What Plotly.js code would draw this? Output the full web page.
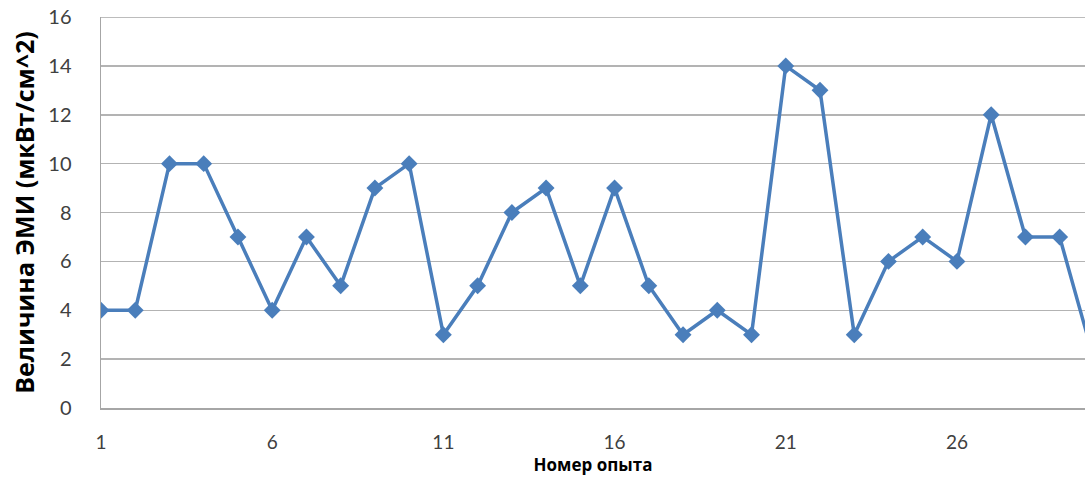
<!DOCTYPE html>
<html>
<head>
<meta charset="utf-8">
<script src="https://cdn.plot.ly/plotly-3.0.1.min.js"></script>
<style>html,body{margin:0;padding:0;background:#fff;}#chart{width:1085px;height:477px;}</style>
</head>
<body>
<div id="chart"></div>
<script>
const experiments = [1,2,3,4,5,6,7,8,9,10,11,12,13,14,15,16,17,18,19,20,21,22,23,24,25,26,27,28,29,30];
const emiValues = [4,4,10,10,7,4,7,5,9,10,3,5,8,9,5,9,5,3,4,3,14,13,3,6,7,6,12,7,7,2];
const xTickVals = [1,6,11,16,21,26];
const yTickVals = [0,2,4,6,8,10,12,14,16];

const trace = {
  x: experiments,
  y: emiValues,
  type: 'scatter',
  mode: 'lines+markers',
  line: {color: '#4a7ebb', width: 3.5},
  marker: {symbol: 'diamond', size: 13, color: '#4a7ebb'},
  cliponaxis: true,
  hoverinfo: 'none'
};

const layout = {
  width: 1085, height: 477,
  margin: {l: 101, r: 0, t: 17, b: 69},
  paper_bgcolor: '#ffffff', plot_bgcolor: '#ffffff',
  font: {family: 'Lato, "Open Sans", sans-serif', size: 20, color: '#404040'},
  showlegend: false,
  xaxis: {
    range: [1, 29.74],
    tickvals: xTickVals,
    ticktext: xTickVals.map(String),
    showgrid: false,
    zeroline: false,
    showline: true, linecolor: '#a6a6a6', linewidth: 1.5,
    ticks: '',
    ticklabelstandoff: 17,
    tickfont: {size: 19, color: '#404040'},
    title: {text: '<b>Номер опыта</b>', font: {family: '"Open Sans", sans-serif', size: 17, color: '#000000'}, standoff: 7}
  },
  yaxis: {
    range: [0, 16],
    tickvals: yTickVals,
    showgrid: true, gridcolor: '#b3b3b3', gridwidth: 1.5,
    zeroline: false,
    showline: true, linecolor: '#a6a6a6', linewidth: 1.5,
    mirror: false,
    ticks: '',
    ticklabelstandoff: 24,
    tickfont: {size: 20, color: '#404040'},
    title: {text: '<b>Величина ЭМИ (мкВт/см^2)</b>', font: {family: '"Open Sans", sans-serif', size: 25, color: '#000000'}, standoff: 6}
  },
  shapes: [{type: 'line', xref: 'paper', yref: 'y', x0: 0, x1: 1, y0: 16, y1: 16, line: {color: '#a6a6a6', width: 1.5}}]
};

Plotly.newPlot('chart', [trace], layout, {displayModeBar: false, staticPlot: true});
</script>
</body>
</html>
